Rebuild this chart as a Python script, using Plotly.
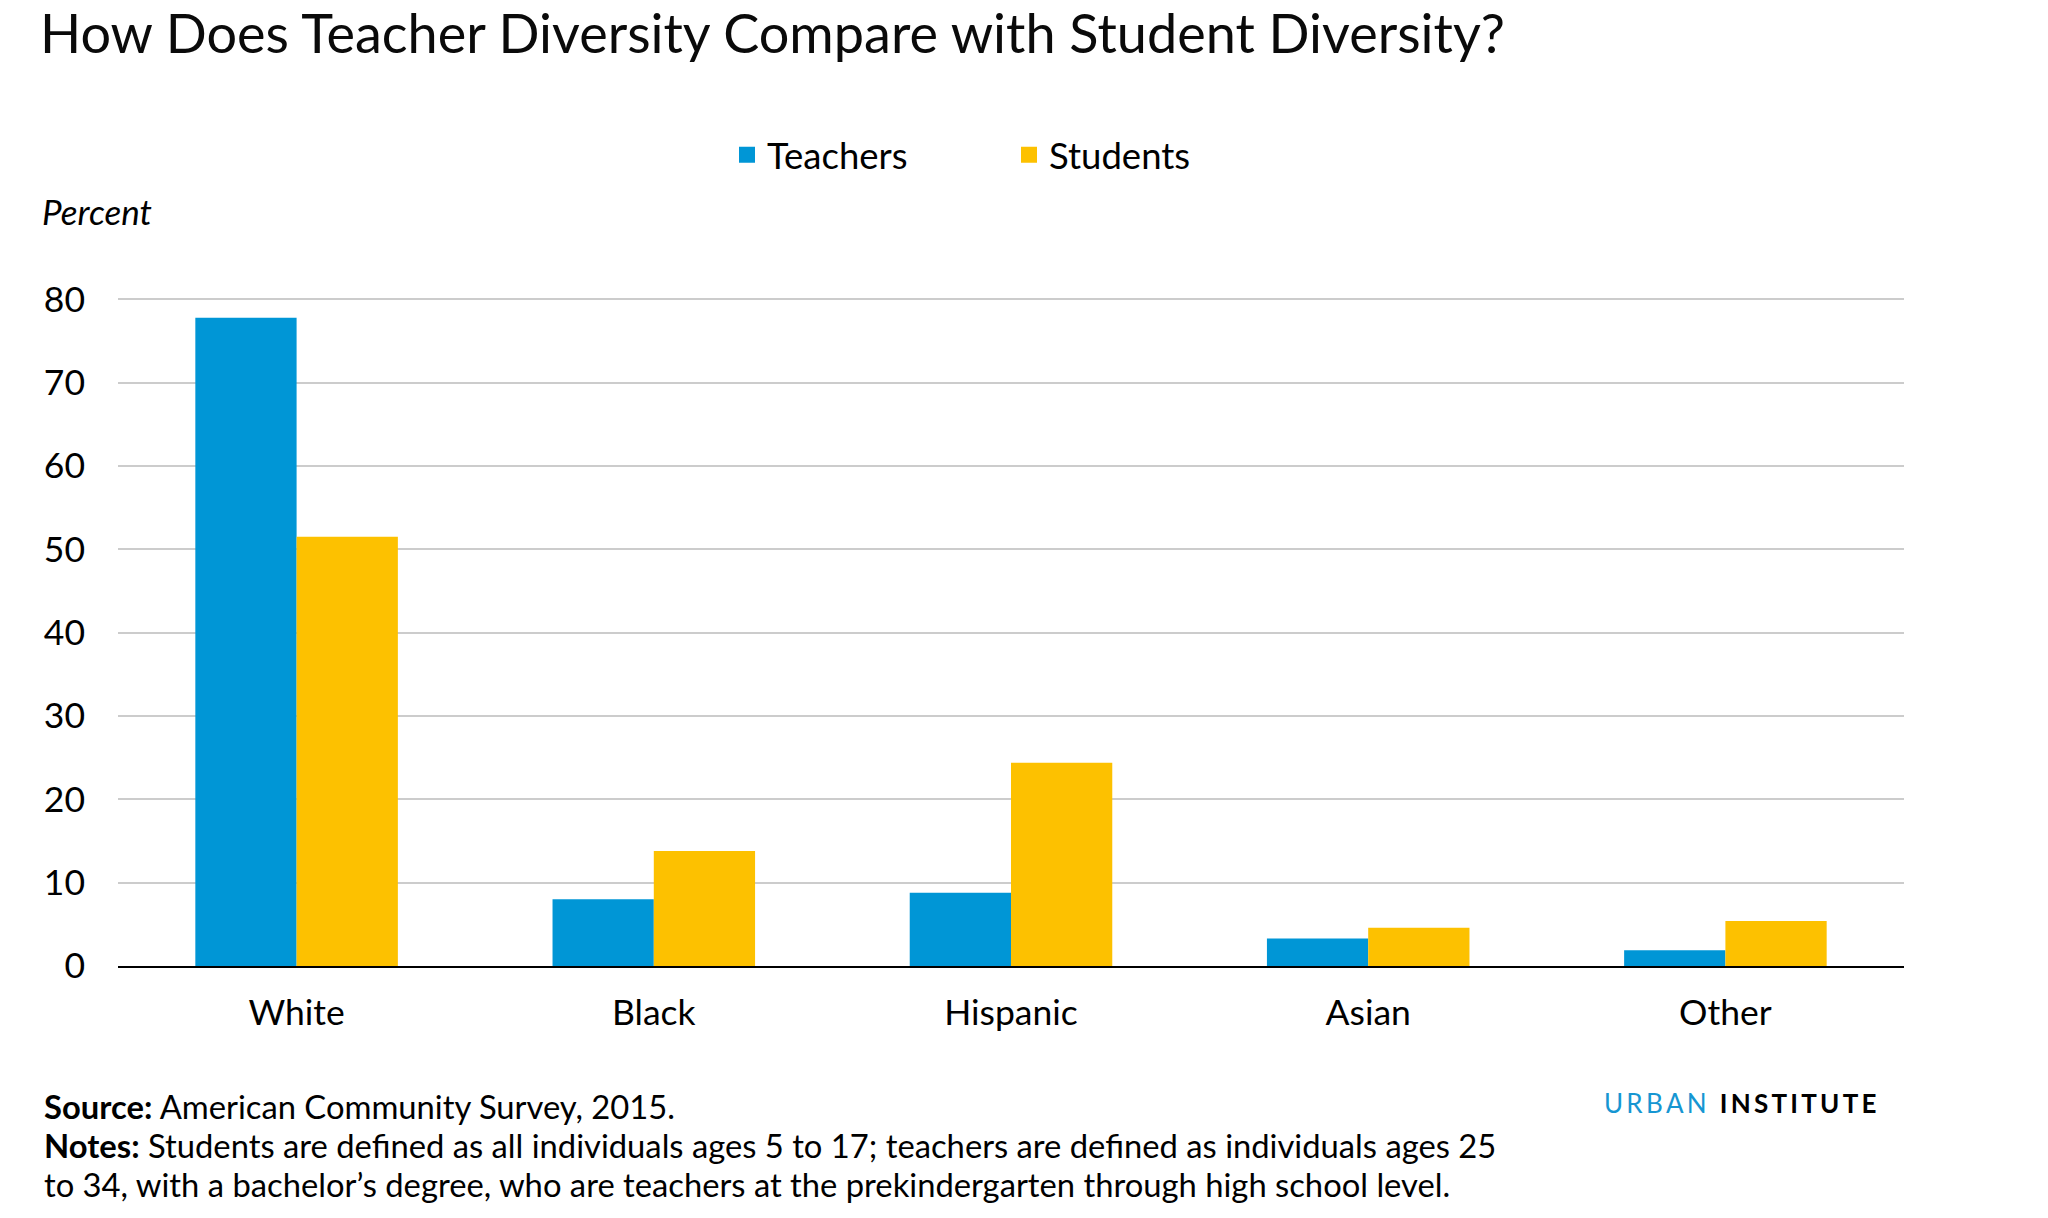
import plotly.graph_objects as go

categories = ["White", "Black", "Hispanic", "Asian", "Other"]
teachers = [77.8, 8.0, 8.8, 3.3, 1.9]
students = [51.5, 13.8, 24.4, 4.6, 5.4]
y_ticks = [0, 10, 20, 30, 40, 50, 60, 70, 80]

BLUE = "#0096D6"
YELLOW = "#FDC100"
FONT = "Lato"
# page body has an 8px margin, so the figure is drawn 8px smaller and offset
W, H = 2040, 1210
L, R, T, B = 110, 144, 288, 252


def xp(px):
    return (px - L) / (W - L - R)


def yp(px):
    return (H - B - px) / (H - T - B)


fig = go.Figure()
fig.add_trace(go.Bar(x=categories, y=teachers, name="Teachers",
                     marker=dict(color=BLUE, line=dict(width=0)), showlegend=False))
fig.add_trace(go.Bar(x=categories, y=students, name="Students",
                     marker=dict(color=YELLOW, line=dict(width=0)), showlegend=False))
# legend entries (square swatches)
fig.add_trace(go.Scatter(x=[None], y=[None], mode="markers", name="Teachers",
                         marker=dict(symbol="square", size=16, color=BLUE)))
fig.add_trace(go.Scatter(x=[None], y=[None], mode="markers", name="Students",
                         marker=dict(symbol="square", size=16, color=YELLOW)))

notes = [
    "<b>Source:</b> American Community Survey, 2015.",
    "<b>Notes:</b> Students are defined as all individuals ages 5 to 17; teachers are defined as individuals ages 25",
    "to 34, with a bachelor\u2019s degree, who are teachers at the prekindergarten through high school level.",
]
note_y = [1098.4, 1137.6, 1176.8]

annotations = [
    dict(text="<i>Percent</i>", xref="paper", yref="paper",
         x=xp(32), y=yp(203), xanchor="left", yanchor="middle", showarrow=False,
         font=dict(family=FONT, size=35, color="#000000")),
    dict(text="<span style='color:#1696d2'>U\u2009R\u2009B\u2009A\u2009N</span>\u2002"
              "<b>I\u2009N\u2009S\u2009T\u2009I\u2009T\u2009U\u2009T\u2009E</b>",
         xref="paper", yref="paper", x=xp(1594), y=yp(1095),
         xanchor="left", yanchor="middle", showarrow=False,
         font=dict(family=FONT, size=26, color="#000000")),
]
for txt, yy in zip(notes, note_y):
    annotations.append(dict(text=txt, xref="paper", yref="paper", x=xp(34), y=yp(yy),
                            xanchor="left", yanchor="middle", align="left", showarrow=False,
                            font=dict(family=FONT, size=32.75, color="#000000")))

fig.update_layout(
    width=W, height=H,
    margin=dict(l=L, r=R, t=T, b=B),
    paper_bgcolor="white", plot_bgcolor="white",
    font=dict(family=FONT, color="#000000", size=35),
    barmode="group", bargap=0.433, bargroupgap=0,
    title=dict(text="How Does Teacher Diversity Compare with Student Diversity?",
               font=dict(family=FONT, size=54, color="#0a0a0a"),
               xref="container", x=32 / W, xanchor="left",
               yref="container", y=1 - 26 / H, yanchor="middle"),
    legend=dict(orientation="h", xref="container", yref="container",
                x=719 / W, xanchor="left", y=1 - 147 / H, yanchor="middle",
                font=dict(family=FONT, size=36.5, color="#000000"),
                entrywidth=237, entrywidthmode="pixels",
                bgcolor="rgba(0,0,0,0)", itemclick=False),
    xaxis=dict(showgrid=False, showline=True, linecolor="#000000", linewidth=2,
               ticks="", tickfont=dict(family=FONT, size=35.5, color="#000000"),
               ticklabelstandoff=14, fixedrange=True),
    yaxis=dict(range=[0, 80.4], tickvals=y_ticks, showgrid=True, gridcolor="#cccccc",
               gridwidth=2, zeroline=False, showline=False, ticks="",
               tickfont=dict(family=FONT, size=35.5, color="#000000"),
               ticklabelstandoff=32, fixedrange=True),
    annotations=annotations,
)

fig.write_html("out.html")
